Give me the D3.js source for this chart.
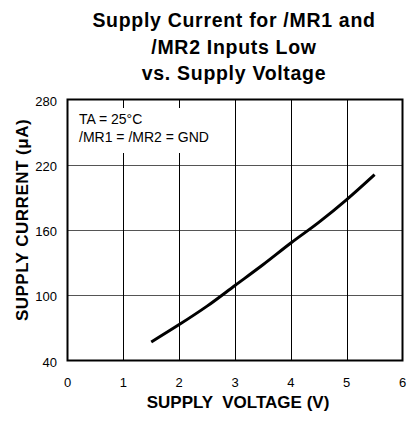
<!DOCTYPE html>
<html>
<head>
<meta charset="utf-8">
<script src="https://cdn.jsdelivr.net/npm/d3@7"></script>
<style>
  html, body { margin: 0; padding: 0; background: #fff; }
  svg { display: block; }
</style>
</head>
<body>
<svg id="chart" width="409" height="423"></svg>
<script>
// ─── Data ───────────────────────────────────────────────────────────────────
const titleLines = ['Supply Current for /MR1 and', '/MR2 Inputs Low', 'vs. Supply Voltage'];
const xTicks = [0, 1, 2, 3, 4, 5, 6];
const yTicks = [40, 100, 160, 220, 280];
const voltage = [1.5, 2.0, 2.5, 3.0, 3.5, 4.0, 4.5, 5.0, 5.5];
const current = [57, 73, 90, 109, 128, 148, 167, 188, 211];
const notes = ['TA = 25°C', '/MR1 = /MR2 = GND'];

const FONT = '"Liberation Sans", Arial, Helvetica, sans-serif';

const svg = d3.select('#chart');
const W = 409, H = 423;
const m = { top: 99.5, right: 6.5, bottom: 62.5, left: 67.5 };
const pw = W - m.left - m.right;
const ph = H - m.top - m.bottom;

const x = d3.scaleLinear().domain([0, 6]).range([m.left, m.left + pw]);
const y = d3.scaleLinear().domain([40, 280]).range([m.top + ph, m.top]);

// Title
svg.append('g').selectAll('text').data(titleLines).enter().append('text')
  .attr('x', 234).attr('y', (d, i) => 27 + i * 26.5)
  .attr('text-anchor', 'middle')
  .attr('font-family', FONT).attr('font-weight', 700).attr('font-size', 19.5)
  .attr('letter-spacing', '0.7px')
  .attr('fill', '#000')
  .text(d => d);

// Horizontal gridlines (grey)
svg.append('g').selectAll('line').data(yTicks.slice(1, -1)).enter().append('line')
  .attr('x1', m.left).attr('x2', m.left + pw)
  .attr('y1', d => Math.round(y(d)) + 0.5).attr('y2', d => Math.round(y(d)) + 0.5)
  .attr('stroke', '#555').attr('stroke-width', 1.2);

// Vertical gridlines (black)
svg.append('g').selectAll('line').data(xTicks.slice(1, -1)).enter().append('line')
  .attr('x1', d => Math.round(x(d)) + 0.5).attr('x2', d => Math.round(x(d)) + 0.5)
  .attr('y1', m.top).attr('y2', m.top + ph)
  .attr('stroke', '#000').attr('stroke-width', 1);

// Annotation box (white background masks the gridlines)
svg.append('rect')
  .attr('x', m.left + 1).attr('y', 108)
  .attr('width', 155).attr('height', 45)
  .attr('fill', '#fff');
svg.append('g').selectAll('text').data(notes).enter().append('text')
  .attr('x', 79).attr('y', (d, i) => 124 + i * 17.5)
  .attr('font-family', FONT).attr('font-size', 14)
  .attr('fill', '#000')
  .text(d => d);

// Frame
svg.append('rect')
  .attr('x', m.left).attr('y', m.top)
  .attr('width', pw).attr('height', ph)
  .attr('fill', 'none').attr('stroke', '#000').attr('stroke-width', 2);

// Curve
const line = d3.line()
  .x((d, i) => x(voltage[i]))
  .y(d => y(d))
  .curve(d3.curveMonotoneX);
svg.append('path')
  .datum(current)
  .attr('d', line)
  .attr('fill', 'none').attr('stroke', '#000')
  .attr('stroke-width', 3).attr('stroke-linecap', 'butt');

// Tick labels
svg.append('g').selectAll('text').data(yTicks).enter().append('text')
  .attr('x', 57).attr('y', d => y(d) + 6)
  .attr('text-anchor', 'end')
  .attr('font-family', FONT).attr('font-size', 13).attr('fill', '#000')
  .text(d => d);
svg.append('g').selectAll('text').data(xTicks).enter().append('text')
  .attr('x', d => x(d)).attr('y', 387)
  .attr('text-anchor', 'middle')
  .attr('font-family', FONT).attr('font-size', 13).attr('fill', '#000')
  .text(d => d);

// Axis titles
svg.append('text')
  .attr('x', 238).attr('y', 408)
  .attr('text-anchor', 'middle')
  .attr('font-family', FONT).attr('font-weight', 700).attr('font-size', 17)
  .attr('fill', '#000')
  .attr('xml:space', 'preserve').style('white-space', 'pre')
  .text('SUPPLY  VOLTAGE (V)');
svg.append('text')
  .attr('transform', 'translate(28,220) rotate(-90)')
  .attr('text-anchor', 'middle')
  .attr('font-family', FONT).attr('font-weight', 700).attr('font-size', 17)
  .attr('letter-spacing', '0.5px')
  .attr('fill', '#000')
  .text('SUPPLY CURRENT (μA)');
</script>
</body>
</html>
